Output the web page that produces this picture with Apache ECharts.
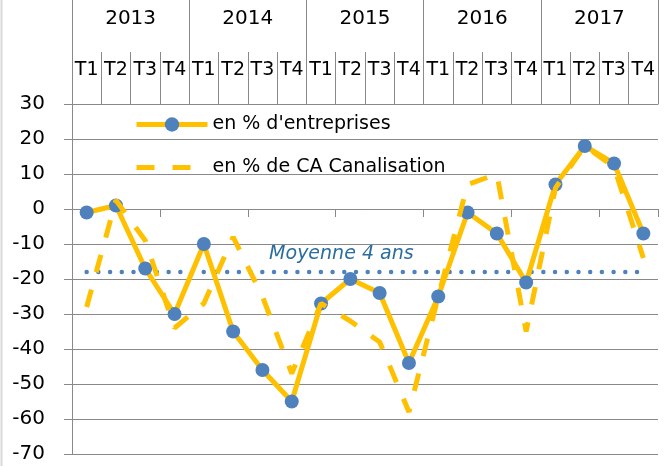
<!DOCTYPE html>
<html>
<head>
<meta charset="utf-8">
<script src="https://cdn.jsdelivr.net/npm/echarts@6/dist/echarts.min.js"></script>
<style>
html,body{margin:0;padding:0;background:#fff;}
#chart{width:670px;height:466px;}
</style>
</head>
<body>
<div id="chart"></div>
<script>
const years = ['2013', '2014', '2015', '2016', '2017'];
const quarters = ['T1', 'T2', 'T3', 'T4'];
const entreprises = [-1, 1, -17, -30, -10, -35, -46, -55, -27, -20, -24, -44, -25, -1, -7, -21, 7, 18, 13, -7];
const canalisation = [-28, 2.5, -9, -34, -27, -8, -25, -47, -27, -32, -38, -58, -25, 7, 10, -35, 6, 18, 12, -14];
const moyenne = [-18, -18, -18, -18, -18, -18, -18, -18, -18, -18, -18, -18, -18, -18, -18, -18, -18, -18, -18, -18];
const seriesNames = ["en % d'entreprises", 'en % de CA Canalisation'];
const moyenneLabel = 'Moyenne 4 ans';
const yTicks = {min: -70, max: 30, step: 10};

const categories = [];
years.forEach(y => quarters.forEach(q => categories.push(y + ' ' + q)));

const FONT = 'DejaVu Sans';
const GRAY = '#898989';
const GOLD = '#FFC000';
const BLUE = '#4F81BD';

const chart = echarts.init(document.getElementById('chart'), null, {renderer: 'canvas'});
chart.setOption({
  animation: false,
  backgroundColor: '#fff',
  textStyle: {fontFamily: FONT},
  grid: {left: 72, right: 12, top: 104, bottom: 12, containLabel: false},
  legend: {
    data: [
      {name: seriesNames[0]},
      {name: seriesNames[1], itemStyle: {opacity: 0}}
    ],
    orient: 'vertical',
    left: 129,
    top: 110,
    itemWidth: 71,
    itemHeight: 18,
    itemGap: 24,
    lineStyle: {width: 5},
    textStyle: {fontFamily: FONT, fontSize: 19, color: '#000'},
    selectedMode: false
  },
  xAxis: [
    {
      type: 'category',
      data: categories,
      position: 'bottom',
      boundaryGap: true,
      axisLine: {onZero: true, lineStyle: {color: GRAY, width: 1}},
      axisTick: {show: true, length: 8, lineStyle: {color: GRAY}},
      axisLabel: {show: false},
      splitLine: {show: false}
    },
    {
      type: 'category',
      data: categories,
      position: 'top',
      boundaryGap: true,
      axisLine: {show: true, onZero: false, lineStyle: {color: GRAY}},
      axisTick: {show: true, length: 52, lineStyle: {color: GRAY}},
      axisLabel: {
        interval: 0, margin: 24, fontFamily: FONT, fontSize: 19, color: '#000',
        formatter: v => v.split(' ')[1]
      },
      splitLine: {show: false}
    },
    {
      type: 'category',
      data: years,
      position: 'top',
      boundaryGap: true,
      axisLine: {show: false, onZero: false},
      axisTick: {show: true, length: 104, lineStyle: {color: GRAY}},
      axisLabel: {interval: 0, margin: 75, fontFamily: FONT, fontSize: 20, color: '#000'},
      splitLine: {show: false}
    }
  ],
  yAxis: {
    type: 'value',
    min: yTicks.min,
    max: yTicks.max,
    interval: yTicks.step,
    axisLine: {show: true, lineStyle: {color: GRAY}},
    axisTick: {show: true, length: 8, lineStyle: {color: GRAY}},
    axisLabel: {margin: 27, fontFamily: FONT, fontSize: 20, color: '#000'},
    splitLine: {show: true, lineStyle: {color: GRAY, width: 1}}
  },
  series: [
    {
      name: moyenneLabel,
      type: 'line',
      xAxisIndex: 0,
      data: moyenne.map((v, i) => i === 9 ? {
        value: v,
        label: {
          show: true, position: 'top', distance: 8, offset: [-9, 0],
          formatter: moyenneLabel, fontFamily: FONT, fontStyle: 'italic',
          fontSize: 19, color: '#2A6E9F'
        }
      } : v),
      symbol: 'circle',
      symbolSize: 1,
      showSymbol: true,
      itemStyle: {color: 'rgba(0,0,0,0)'},
      lineStyle: {color: BLUE, width: 4.5, type: [0.01, 11.7], cap: 'round'},
      emphasis: {disabled: true},
      silent: true,
      z: 2
    },
    {
      name: seriesNames[0],
      type: 'line',
      xAxisIndex: 0,
      data: entreprises,
      symbol: 'circle',
      symbolSize: 14,
      itemStyle: {color: BLUE, borderWidth: 0},
      lineStyle: {color: GOLD, width: 5},
      emphasis: {disabled: true},
      z: 3
    },
    {
      name: seriesNames[1],
      type: 'line',
      xAxisIndex: 0,
      data: canalisation,
      symbol: 'none',
      itemStyle: {color: GOLD},
      lineStyle: {color: GOLD, width: 5, type: [18, 18], cap: 'butt'},
      emphasis: {disabled: true},
      z: 4
    }
  ],
  graphic: [
    {type: 'line', shape: {x1: 1.5, y1: 0, x2: 1.5, y2: 466}, style: {stroke: '#d9d9d9', lineWidth: 2}, silent: true}
  ]
});
</script>
</body>
</html>
